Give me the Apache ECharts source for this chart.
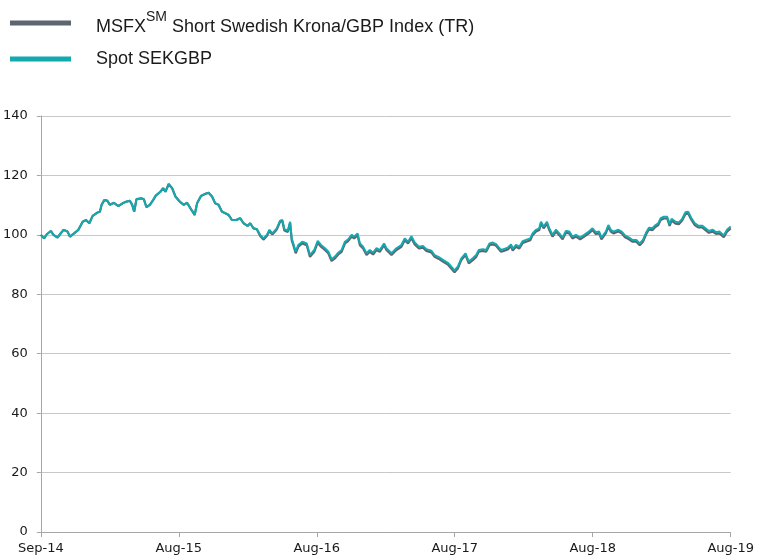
<!DOCTYPE html>
<html><head><meta charset="utf-8">
<script src="https://cdn.jsdelivr.net/npm/echarts@6/dist/echarts.min.js"></script>
<style>html,body{margin:0;padding:0;background:#fff}#c{width:757px;height:556px}</style>
</head><body><div id="c"></div>
<script>
// Tick labels of the time axis (one every 12 months from Sep-14)
const xTickLabels = ['Sep-14', 'Aug-15', 'Aug-16', 'Aug-17', 'Aug-18', 'Aug-19'];
const yTicks = [0, 20, 40, 60, 80, 100, 120, 140];

// Months elapsed since Sep-14 for each sampled observation
const months = [
  0, 0.09, 0.29, 0.52, 0.87, 1.10, 1.45, 1.97, 2.32, 2.54, 2.89, 3.27, 3.64, 3.93, 4.22, 4.51, 4.92, 5.14, 5.29, 5.52,
  5.78, 6.01, 6.36, 6.74, 7.11, 7.46, 7.74, 7.95, 8.12, 8.32, 8.76, 8.96, 9.19, 9.48, 9.77, 10.00, 10.12, 10.40, 10.64, 10.84,
  11.12, 11.42, 11.71, 12.08, 12.43, 12.72, 13.07, 13.38, 13.59, 13.93, 14.31, 14.59, 14.89, 15.17, 15.46, 15.76, 16.04, 16.33, 16.62, 17.00,
  17.34, 17.63, 17.98, 18.21, 18.50, 18.79, 19.08, 19.36, 19.66, 19.88, 20.14, 20.52, 20.81, 21.01, 21.18, 21.48, 21.68, 21.82, 21.96, 22.17,
  22.40, 22.74, 23.13, 23.41, 23.78, 24.08, 24.37, 24.71, 25.00, 25.29, 25.58, 25.87, 26.16, 26.45, 26.73, 27.03, 27.25, 27.55, 27.75, 28.03,
  28.33, 28.61, 28.90, 29.20, 29.48, 29.85, 30.06, 30.50, 30.93, 31.36, 31.65, 31.94, 32.23, 32.52, 32.89, 33.24, 33.53, 33.96, 34.25, 34.62,
  34.97, 35.40, 35.70, 35.98, 36.27, 36.57, 36.94, 37.22, 37.57, 37.87, 38.09, 38.44, 38.73, 39.02, 39.31, 39.60, 39.83, 40.03, 40.32, 40.61,
  40.90, 41.04, 41.33, 41.62, 41.91, 42.20, 42.57, 42.77, 43.07, 43.35, 43.50, 43.73, 44.02, 44.22, 44.51, 44.80, 45.09, 45.38, 45.67, 45.96,
  46.24, 46.54, 46.91, 47.26, 47.60, 47.98, 48.27, 48.56, 48.76, 49.14, 49.36, 49.57, 49.80, 50.23, 50.52, 50.81, 51.16, 51.44, 51.79, 52.09,
  52.37, 52.66, 52.89, 53.18, 53.41, 53.70, 53.91, 54.19, 54.48, 54.69, 54.86, 55.21, 55.49, 55.78, 56.07, 56.30, 56.59, 56.88, 57.17, 57.51,
  57.81, 58.10, 58.44, 58.73, 59.02, 59.40, 59.68, 60.00
];

// Spot SEKGBP (rebased to 100)
const spotSEKGBP = [
  100.0, 99.6, 98.8, 100.2, 101.3, 100.0, 99.1, 101.7, 101.1, 99.4, 100.5, 101.7, 104.4, 105.0, 103.9, 106.4, 107.5, 107.8, 110.1, 111.7,
  111.5, 110.1, 110.8, 109.7, 110.6, 111.2, 111.5, 110.1, 107.8, 112.0, 112.3, 112.0, 109.3, 110.1, 111.7, 113.2, 113.4, 114.5, 115.7, 114.5,
  117.1, 115.7, 112.9, 111.2, 110.1, 110.8, 108.6, 106.7, 110.6, 113.1, 113.8, 114.2, 112.9, 110.6, 110.1, 107.8, 107.3, 106.7, 105.0, 105.0,
  105.6, 103.9, 103.0, 103.9, 102.2, 101.9, 100.0, 98.8, 100.0, 101.7, 100.5, 102.2, 104.8, 105.0, 101.9, 101.4, 104.4, 98.8, 97.1, 94.4,
  96.6, 97.7, 97.1, 93.2, 94.9, 98.0, 96.6, 95.5, 94.4, 91.8, 92.7, 94.0, 94.9, 97.7, 98.5, 100.0, 99.4, 100.5, 97.1, 96.0,
  93.8, 94.9, 94.0, 95.5, 94.9, 97.1, 95.5, 93.8, 95.5, 96.6, 98.8, 97.7, 99.5, 97.4, 96.0, 96.3, 95.2, 94.7, 93.2, 92.5,
  91.6, 90.6, 89.3, 88.0, 89.3, 92.1, 93.8, 91.0, 92.1, 93.2, 94.9, 95.2, 94.9, 97.1, 97.4, 96.9, 95.8, 94.9, 95.3, 95.7,
  96.8, 95.3, 96.6, 96.0, 97.9, 98.3, 98.8, 100.5, 101.7, 102.2, 104.4, 102.8, 104.4, 102.2, 100.0, 101.7, 100.5, 99.1, 101.3, 101.1,
  99.4, 100.0, 99.1, 100.0, 100.9, 102.2, 100.9, 101.1, 99.1, 101.1, 103.3, 101.7, 101.1, 101.7, 101.1, 99.8, 99.1, 98.3, 98.3, 97.1,
  98.3, 100.9, 102.4, 102.2, 103.1, 103.9, 105.6, 106.1, 106.1, 103.6, 105.4, 104.4, 104.2, 105.4, 107.6, 107.8, 105.6, 103.9, 103.1, 103.1,
  102.2, 101.3, 101.7, 100.9, 101.1, 99.8, 101.7, 102.8
];

// MSFX Short Swedish Krona/GBP Index (TR)
const msfxIndex = [
  100.0, 99.6, 98.8, 100.2, 101.3, 100.0, 99.1, 101.7, 101.1, 99.4, 100.5, 101.7, 104.4, 105.0, 103.9, 106.4, 107.5, 107.8, 110.1, 111.7,
  111.5, 110.1, 110.8, 109.7, 110.6, 111.2, 111.5, 110.1, 107.8, 112.0, 112.3, 112.0, 109.3, 110.1, 111.7, 113.2, 113.4, 114.5, 115.7, 114.5,
  117.1, 115.7, 112.9, 111.2, 110.1, 110.8, 108.6, 106.7, 110.6, 113.1, 113.8, 114.2, 112.9, 110.6, 110.1, 107.8, 107.3, 106.7, 105.0, 105.0,
  105.6, 103.9, 103.0, 103.9, 102.2, 101.9, 99.6, 98.4, 99.6, 101.3, 100.1, 101.8, 104.4, 104.6, 101.5, 101.0, 104.0, 98.2, 96.5, 93.8,
  96.0, 97.1, 96.5, 92.6, 94.3, 97.4, 96.0, 94.9, 93.8, 91.2, 92.1, 93.4, 94.3, 97.1, 97.9, 99.4, 98.8, 99.9, 96.5, 95.4,
  93.2, 94.3, 93.4, 94.9, 94.3, 96.5, 94.9, 93.2, 94.9, 96.0, 98.2, 97.1, 98.9, 96.8, 95.4, 95.7, 94.6, 94.1, 92.6, 91.9,
  91.0, 90.0, 88.7, 87.4, 88.7, 91.5, 93.2, 90.4, 91.5, 92.6, 94.3, 94.6, 94.3, 96.5, 96.8, 96.3, 95.2, 94.3, 94.7, 95.1,
  96.2, 94.7, 96.0, 95.4, 97.3, 97.7, 98.2, 99.9, 101.1, 101.6, 103.8, 102.2, 103.8, 101.6, 99.4, 101.1, 99.9, 98.5, 100.7, 100.5,
  98.8, 99.4, 98.5, 99.4, 100.3, 101.6, 100.3, 100.5, 98.5, 100.5, 102.7, 101.1, 100.5, 101.1, 100.5, 99.2, 98.5, 97.7, 97.7, 96.5,
  97.7, 100.3, 101.8, 101.6, 102.5, 103.3, 105.0, 105.5, 105.5, 103.0, 104.8, 103.8, 103.6, 104.8, 107.0, 107.2, 105.0, 103.3, 102.5, 102.5,
  101.6, 100.7, 101.1, 100.3, 100.5, 99.2, 101.1, 102.2
];

const nameMsfx = 'MSFX Short Swedish Krona/GBP Index (TR)';
const nameSpot = 'Spot SEKGBP';

const zip = (xs, ys) => xs.map((x, i) => [x, ys[i]]);

const legendFont = 'Liberation Sans, Arial, sans-serif';
const axisFont = 'DejaVu Sans, Verdana, sans-serif';

const chart = echarts.init(document.getElementById('c'), null, { renderer: 'canvas' });
chart.setOption({
  animation: false,
  backgroundColor: '#ffffff',
  legend: [
    {
      data: [nameMsfx], orient: 'vertical', left: 10, top: 10, padding: 0,
      icon: 'rect', itemWidth: 61, itemHeight: 5,
      formatter: () => '{p|MSFX}{s|SM}{a| Short Swedish Krona/GBP Index (TR)}',
      textStyle: {
        rich: {
          p: { fontFamily: legendFont, fontSize: 18, color: '#1a1a1a', lineHeight: 26, verticalAlign: 'bottom', padding: [0, 0, 0, 20] },
          s: { fontFamily: legendFont, fontSize: 14, color: '#1a1a1a', lineHeight: 14, verticalAlign: 'top' },
          a: { fontFamily: legendFont, fontSize: 18, color: '#1a1a1a', lineHeight: 26, verticalAlign: 'bottom' }
        }
      }
    },
    {
      data: [nameSpot], orient: 'vertical', left: 10, top: 50, padding: 0,
      icon: 'rect', itemWidth: 61, itemHeight: 5,
      formatter: (n) => '{p|' + n + '}',
      textStyle: {
        rich: {
          p: { fontFamily: legendFont, fontSize: 18, color: '#1a1a1a', lineHeight: 20, padding: [0, 0, 0, 20] }
        }
      }
    }
  ],
  grid: { left: 40, right: 25, top: 116, bottom: 24, containLabel: false },
  xAxis: {
    type: 'value', min: 0, max: 60, interval: 12,
    axisLine: { show: true, lineStyle: { color: '#A6A6A6', width: 1 } },
    axisTick: { show: true, length: 5, lineStyle: { color: '#A6A6A6' } },
    splitLine: { show: false },
    axisLabel: {
      margin: 10, fontFamily: axisFont, fontSize: 13, color: '#1a1a1a',
      formatter: (v) => xTickLabels[Math.round(v / 12)] || ''
    }
  },
  yAxis: {
    type: 'value', min: yTicks[0], max: yTicks[yTicks.length - 1], interval: 20,
    axisLine: { show: true, lineStyle: { color: '#A6A6A6', width: 1 } },
    axisTick: { show: true, length: 4, lineStyle: { color: '#A6A6A6' } },
    splitLine: { show: true, lineStyle: { color: '#C8C8C8', width: 1 } },
    axisLabel: { margin: 13, fontFamily: axisFont, fontSize: 13, color: '#1a1a1a' }
  },
  series: [
    {
      name: nameMsfx, type: 'line', showSymbol: false, symbol: 'none',
      color: '#5B6670',
      lineStyle: { color: '#5B6670', width: 2.2 },
      data: zip(months, msfxIndex)
    },
    {
      name: nameSpot, type: 'line', showSymbol: false, symbol: 'none',
      color: '#14A9AE',
      lineStyle: { color: '#14A9AE', width: 2 },
      data: zip(months, spotSEKGBP)
    }
  ]
});
</script>
</body></html>
